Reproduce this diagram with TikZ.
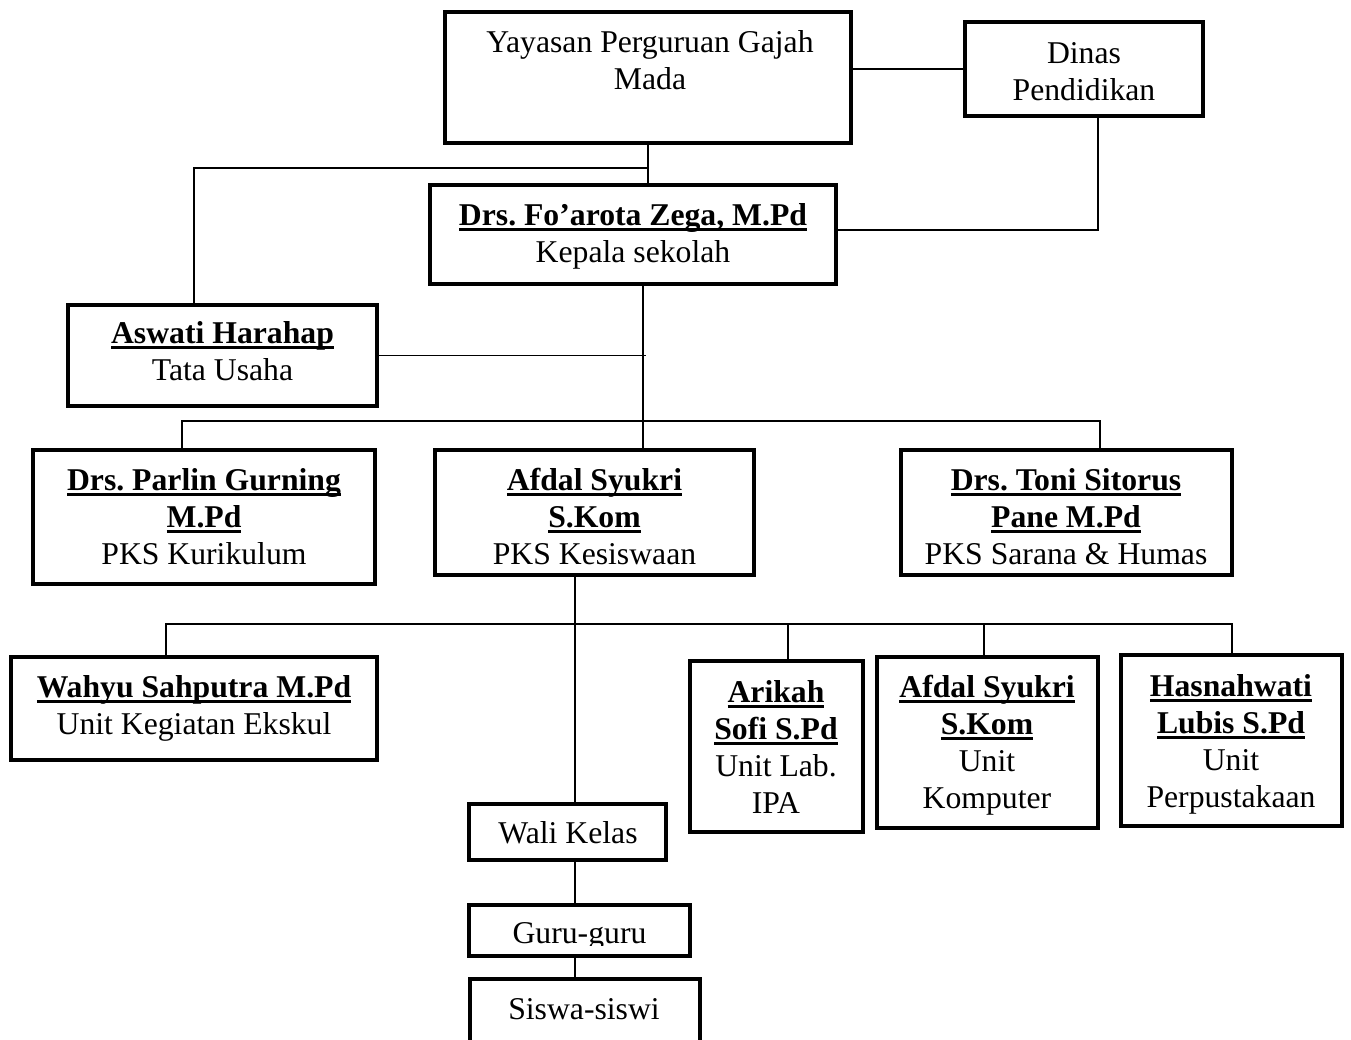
\documentclass[tikz,border=0pt]{standalone}
\usepackage{fontspec}
\setmainfont{Liberation Serif}
\frenchspacing
\newcommand\myul[1]{{\setbox0\hbox{#1}\rlap{\rule[-6pt]{\wd0}{2.8pt}}\box0}}
\newcommand\nm[1]{{\bfseries\myul{#1}}}
\newcommand\tx[1]{\begin{tabular}[t]{@{}c@{}}#1\end{tabular}}
\tikzset{
  box/.style={draw, line width=4pt, inner sep=0pt, outer sep=0pt, fill=white},
  lbl/.style={anchor=base, inner sep=0pt, font=\fontsize{31.7}{37}\selectfont\frenchspacing},
  conn/.style={line width=1.6pt}
}
\begin{document}
\begin{tikzpicture}[x=1pt,y=-1pt]
\fill[white] (0,0) rectangle (1351,1039);
\useasboundingbox (0,0) rectangle (1351,1039);
% boxes
\node[box, minimum width=406pt, minimum height=131pt] (yay) at (648,77.5) {};
\node[box, minimum width=238pt, minimum height=94pt] (din) at (1084,69) {};
\node[box, minimum width=406pt, minimum height=99pt] (kep) at (633,234.5) {};
\node[box, minimum width=309pt, minimum height=101pt] (asw) at (222.5,355.5) {};
\node[box, minimum width=342pt, minimum height=134pt] (par) at (204,517) {};
\node[box, minimum width=319pt, minimum height=125pt] (afd) at (594.5,512.5) {};
\node[box, minimum width=331pt, minimum height=125pt] (ton) at (1066.5,512.5) {};
\node[box, minimum width=366pt, minimum height=103pt] (wah) at (194,708.5) {};
\node[box, minimum width=173pt, minimum height=171pt] (ari) at (776.5,746.5) {};
\node[box, minimum width=221pt, minimum height=171pt] (afk) at (987.5,742.5) {};
\node[box, minimum width=221pt, minimum height=171pt] (has) at (1231.5,740.5) {};
\node[box, minimum width=197pt, minimum height=56pt] (wal) at (567.5,832) {};
\node[box, minimum width=221pt, minimum height=51pt] (gur) at (579.5,930.5) {};
\node[box, minimum width=230pt, minimum height=79pt] (sis) at (585,1018.5) {};
% helper coordinates
\coordinate (tu) at (194,168);
\coordinate (dk) at (1098,230);
\coordinate (t1) at (643,300);
\coordinate (h1l) at (182,421);
\coordinate (h1r) at (1100,421);
\coordinate (t2) at (575,600);
\coordinate (h2l) at (166,624);
\coordinate (h2r) at (1233,624);
% connectors
\draw[conn] (din.west) -- (din.west -| yay.east);
\draw[conn] (yay.south) -- (yay.south |- kep.north);
\draw[conn] (yay.south |- tu) -- (tu) -- (tu |- asw.north);
\draw[conn] (dk |- din.south) -- (dk) -- (dk -| kep.east);
\draw[conn] (t1 |- kep.south) -- (t1 |- afd.north);
\draw[conn] (asw.east) -- ([xshift=3pt]asw.east -| t1);
\draw[conn] (h1l |- par.north) -- (h1l) -- (h1r) -- (h1r |- ton.north);
\draw[conn] (t2 |- afd.south) -- (t2 |- wal.north);
\draw[conn] (h2l |- wah.north) -- (h2l) -- (h2r);
\draw[conn] (788,624) -- (788,0 |- ari.north);
\draw[conn] (984,624) -- (984,0 |- afk.north);
\draw[conn] (1232,624) -- (1232,0 |- has.north);
\draw[conn] (t2 |- wal.south) -- (t2 |- gur.north);
\draw[conn] (t2 |- gur.south) -- (t2 |- sis.north);
% labels
\node[lbl] (yayt) at (650,52) {\tx{Yayasan Perguruan Gajah\\Mada}};
\node[lbl] (dint) at (1084,63) {\tx{Dinas\\Pendidikan}};
\node[lbl] (kept) at (633,225) {\tx{\nm{Drs. Fo’arota Zega, M.Pd}\\Kepala sekolah}};
\node[lbl] (aswt) at (222.5,343) {\tx{\nm{Aswati Harahap}\\Tata Usaha}};
\node[lbl] (part) at (204,490) {\tx{\nm{Drs. Parlin Gurning}\\\nm{M.Pd}\\PKS Kurikulum}};
\node[lbl] (afdt) at (594.5,490) {\tx{\nm{Afdal Syukri}\\\nm{S.Kom}\\PKS Kesiswaan}};
\node[lbl] (tont) at (1066,490) {\tx{\nm{Drs. Toni Sitorus}\\\nm{Pane M.Pd}\\PKS Sarana \& Humas}};
\node[lbl] (waht) at (194,697) {\tx{\nm{Wahyu Sahputra M.Pd}\\Unit Kegiatan Ekskul}};
\node[lbl] (arit) at (776,702) {\tx{\nm{Arikah}\\\nm{Sofi S.Pd}\\Unit Lab.\\IPA}};
\node[lbl] (afkt) at (987,697) {\tx{\nm{Afdal Syukri}\\\nm{S.Kom}\\Unit\\Komputer}};
\node[lbl] (hast) at (1231,696) {\tx{\nm{Hasnahwati}\\\nm{Lubis S.Pd}\\Unit\\Perpustakaan}};
\node[lbl] (walt) at (568,843) {Wali Kelas};
\begin{scope}
\clip (gur.north west) rectangle (692,945);
\node[lbl] (gurt) at (579.5,943) {Guru-guru};
\end{scope}
\node[lbl] (sist) at (584,1019) {Siswa-siswi};
\end{tikzpicture}
\end{document}
